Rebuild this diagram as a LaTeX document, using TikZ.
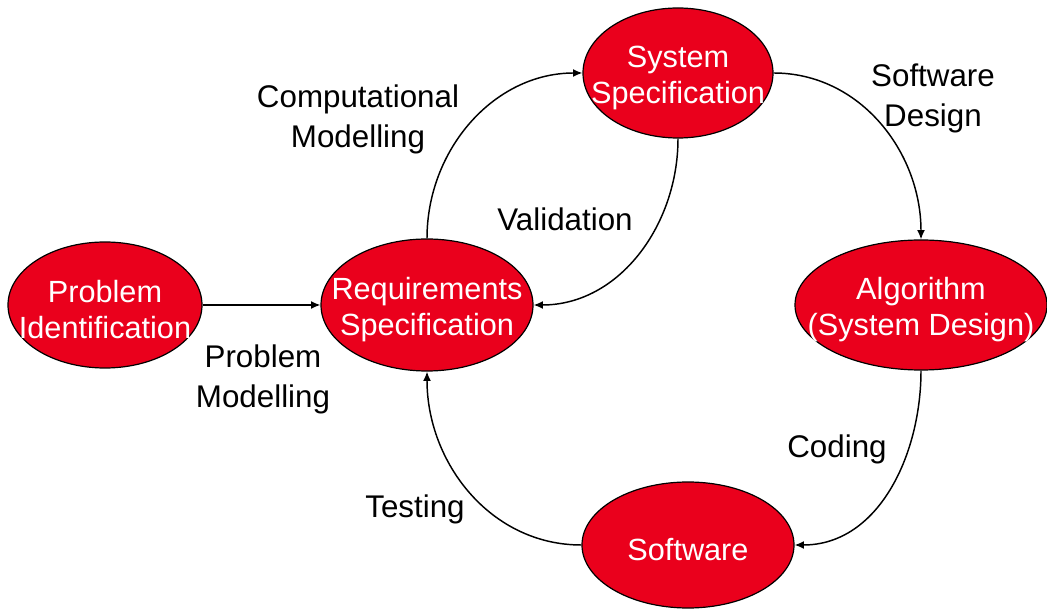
\documentclass[tikz,border=0pt]{standalone}
\usepackage{fontspec}
\setmainfont{Liberation Sans}
\usetikzlibrary{shapes.geometric,arrows.meta}
\definecolor{stagered}{RGB}{234,0,28}
\begin{document}
\begin{tikzpicture}[x=0.75pt,y=-0.75pt,
  stage/.style={ellipse,draw=black,line width=0.9pt,fill=stagered,inner sep=0pt},
  stagetext/.style={text=white,align=center,yshift=-3.5pt,font=\fontsize{23pt}{27pt}\selectfont},
  caption/.style={text=black,align=center,font=\fontsize{23.5pt}{30pt}\selectfont},
  flow/.style={line width=1.1pt,-{Latex[length=7pt,width=6pt]}}]
\useasboundingbox (0,0) rectangle (1047,609);

% process stages
\node[stage,minimum width=145.5pt,minimum height=94.5pt,
  label={[stagetext]center:Problem\\Identification}] (pi) at (105,305) {};
\node[stage,minimum width=159pt,minimum height=99pt,
  label={[stagetext]center:Requirements\\Specification}] (req) at (427,305) {};
\node[stage,minimum width=142.5pt,minimum height=97.5pt,
  label={[stagetext]center:System\\Specification}] (sys) at (678,73) {};
\node[stage,minimum width=189pt,minimum height=97.5pt,
  label={[stagetext]center:Algorithm\\(System Design)}] (alg) at (921,305) {};
\node[stage,minimum width=159pt,minimum height=94.5pt,
  label={[stagetext]center:Software}] (sw) at (688,545) {};

% transitions
\draw[flow] (pi.east) -- (req.west);
\draw[flow] (req.north) to[out=90,in=180] (sys.west);
\draw[flow] (sys.south) to[out=-90,in=0] (req.east);
\draw[flow] (sys.east) to[out=0,in=90] (alg.north);
\draw[flow] (alg.south) to[out=-90,in=0] (sw.east);
\draw[flow] (sw.west) to[out=180,in=-90] (req.south);

% transition names
\node[caption] (lcomp) at (358,119) {Computational\\Modelling};
\node[caption] (lval) at (565,219) {Validation};
\node[caption] (ldes) at (933,98) {Software\\Design};
\node[caption] (lprob) at (263,379) {Problem\\Modelling};
\node[caption] (lcod) at (837,449) {Coding};
\node[caption] (ltest) at (415,509) {Testing};
\end{tikzpicture}
\end{document}
